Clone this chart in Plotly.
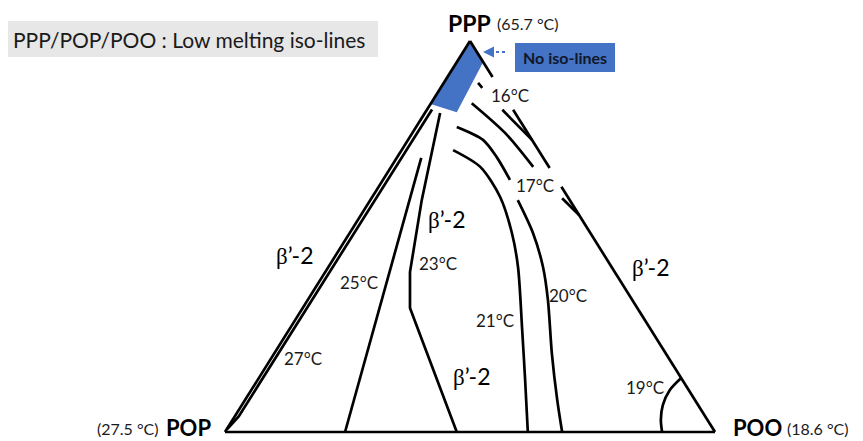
import plotly.graph_objects as go

# ---------------- data : compositions in % (PPP, POO); POP = 100 - PPP - POO ----------------
# triangle edges (None = gap left for a label)
edge_left_ppp = [0, 100]
edge_left_poo = [0, 0]
edge_base_ppp = [0, 0]
edge_base_poo = [0, 100]
edge_right_ppp = [100, 90.8, None, 82.4, 67.5, None, 62.7, 0]
edge_right_poo = [0, 9.2, None, 17.6, 32.5, None, 37.3, 100]

# "no iso-lines" zone near PPP
zone_ppp = [100, 83.9, 81.8, 94.6, 100]
zone_poo = [0, 0, 6.4, 5.4, 0]

# iso-lines
iso27_ppp = [0.8, 4.0, 82.5]
iso27_poo = [0.1, 0.8, 1.0]
iso25_ppp = [70.1, 0]
iso25_poo = [5.0, 24.5]
iso23_ppp = [81.6, 59.3, 40.9, 31.7, 0]
iso23_poo = [3.1, 10.5, 17.3, 21.9, 47.3]
iso21_ppp = [72.1, 67.8, 60.1, 50.9, 42.2, 26.1, 13.3, 0]
iso21_poo = [10.5, 18.2, 26.1, 33.1, 38.7, 47.6, 54.6, 61.8]
iso20_ppp = [78.0, 74.7, 70.3, 64.5, None, 59.3, 50.9, 42.2, 33.8, 20.2, 8.2, 0]
iso20_poo = [8.3, 15.3, 20.3, 25.9, None, 30.1, 37.4, 43.8, 49.0, 56.6, 63.7, 68.8]
iso17_ppp = [84.1, 76.5, 67.8, None, 59.8, 55.5]
iso17_poo = [8.3, 18.9, 29.0, None, 38.9, 44.5]
iso16_ppp = [89.3, 88.0, None, 82.4, 74.7]
iso16_poo = [7.0, 8.5, None, 15.4, 25.3]
iso19_ppp = [13.8, 10.7, 6.9, 3.1, 0]
iso19_poo = [86.2, 85.4, 85.9, 87.4, 89.2]

vertex_names = ["PPP", "POP", "POO"]
vertex_temps = ["(65.7 °C)", "(27.5 °C)", "(18.6 °C)"]
iso_labels = ["16°C", "17°C", "20°C", "21°C", "19°C", "23°C", "25°C", "27°C"]
phase_label = "β’-2"
title_text = "PPP/POP/POO : Low melting iso-lines"
zone_text = "No iso-lines"

# ---------------- helpers ----------------
OFF = 8                 # page body margin of the html output
W, H = 863, 441          # figure size (the page shows it shifted by OFF)
X0, XW = 225 - OFF, 490   # figure pixel x of POP vertex, base width
Y0, YH = 432 - OFF, 391   # figure pixel y of base, triangle height


def tern(ppp, poo):
    xs, ys = [], []
    for a, c in zip(ppp, poo):
        if a is None:
            xs.append(None)
            ys.append(None)
        else:
            xs.append(c / 100 + a / 200)
            ys.append(a / 100)
    return xs, ys


def px(x):
    return (x - OFF) / W


def py(y):
    return 1 - (y - OFF) / H


BLUE = "#4472C4"
FONT = "Lato, 'Open Sans', sans-serif"
fig = go.Figure()

zx, zy = tern(zone_ppp, zone_poo)
fig.add_trace(go.Scatter(x=zx, y=zy, mode="lines", fill="toself", fillcolor=BLUE,
                         line=dict(width=0, color=BLUE), hoverinfo="skip"))

LW = 2.7
for p, c, shape in [
    (edge_left_ppp, edge_left_poo, "linear"),
    (edge_base_ppp, edge_base_poo, "linear"),
    (edge_right_ppp, edge_right_poo, "linear"),
    (iso27_ppp, iso27_poo, "linear"),
    (iso25_ppp, iso25_poo, "linear"),
    (iso23_ppp, iso23_poo, "linear"),
    (iso21_ppp, iso21_poo, "spline"),
    (iso20_ppp, iso20_poo, "spline"),
    (iso17_ppp, iso17_poo, "spline"),
    (iso16_ppp, iso16_poo, "linear"),
    (iso19_ppp, iso19_poo, "spline"),
]:
    x, y = tern(p, c)
    fig.add_trace(go.Scatter(x=x, y=y, mode="lines", connectgaps=False,
                             line=dict(color="black", width=LW, shape=shape, smoothing=0.8),
                             hoverinfo="skip"))

ann = []


def add(text, x, y, size, xanchor="center", bold=False, color="#1a1a1a", family=FONT):
    ann.append(dict(text=("<b>%s</b>" % text) if bold else text, x=px(x), y=py(y),
                    xref="paper", yref="paper", showarrow=False, xanchor=xanchor,
                    yanchor="middle", font=dict(size=size, color=color, family=family)))


# title box
shapes = [dict(type="rect", xref="paper", yref="paper", x0=px(7), x1=px(378), y0=py(57), y1=py(21),
               fillcolor="#e7e7e7", line=dict(width=0), layer="below")]
add(title_text, 11, 39, 21, xanchor="left")

# vertex labels
add(vertex_names[0], 493, 23, 23, xanchor="right", bold=True, color="black")
add(vertex_temps[0], 495, 24, 16, xanchor="left")
add(vertex_names[1], 213, 427, 22, xanchor="right", bold=True, color="black")
add(vertex_temps[1], 161, 428, 16, xanchor="right")
add(vertex_names[2], 731, 427, 22, xanchor="left", bold=True, color="black")
add(vertex_temps[2], 785, 428, 16, xanchor="left")

# no iso-lines box and dashed arrow
shapes.append(dict(type="rect", xref="paper", yref="paper", x0=px(515), x1=px(615), y0=py(72), y1=py(43),
                   fillcolor=BLUE, line=dict(width=0)))
add(zone_text, 565, 57.5, 16, bold=True, color="#10182a")
shapes.append(dict(type="line", xref="paper", yref="paper", x0=px(490), x1=px(508), y0=py(52), y1=py(52),
                   line=dict(color=BLUE, width=2, dash="3px,3px")))
ann.append(dict(x=px(483), y=py(52), ax=8, ay=0, xref="paper", yref="paper",
                text="", showarrow=True, arrowhead=2,
                arrowsize=1.1, arrowwidth=2, arrowcolor=BLUE))

# iso-line temperature labels
pos = [(510, 95), (535, 185), (568, 295), (495, 320), (645, 387), (438, 263), (359, 282), (303, 358)]
for t, (x, y) in zip(iso_labels, pos):
    add(t, x, y, 17)

# phase labels
beta = "<span style=\"font-family:'Liberation Serif', serif\">β</span>’-2"
for (x, y) in [(295, 255), (447, 219), (472, 376), (651, 267)]:
    add(beta, x, y, 23, color="black")

xr = [(0 - X0) / XW, (W - X0) / XW]
yr = [(Y0 - H) / YH, (Y0 - 0) / YH]
fig.update_layout(width=W, height=H, margin=dict(l=0, r=0, t=0, b=0),
                  paper_bgcolor="white", plot_bgcolor="white", showlegend=False,
                  xaxis=dict(range=xr, visible=False, fixedrange=True),
                  yaxis=dict(range=yr, visible=False, fixedrange=True),
                  annotations=ann, shapes=shapes)
fig.write_html("out.html")
